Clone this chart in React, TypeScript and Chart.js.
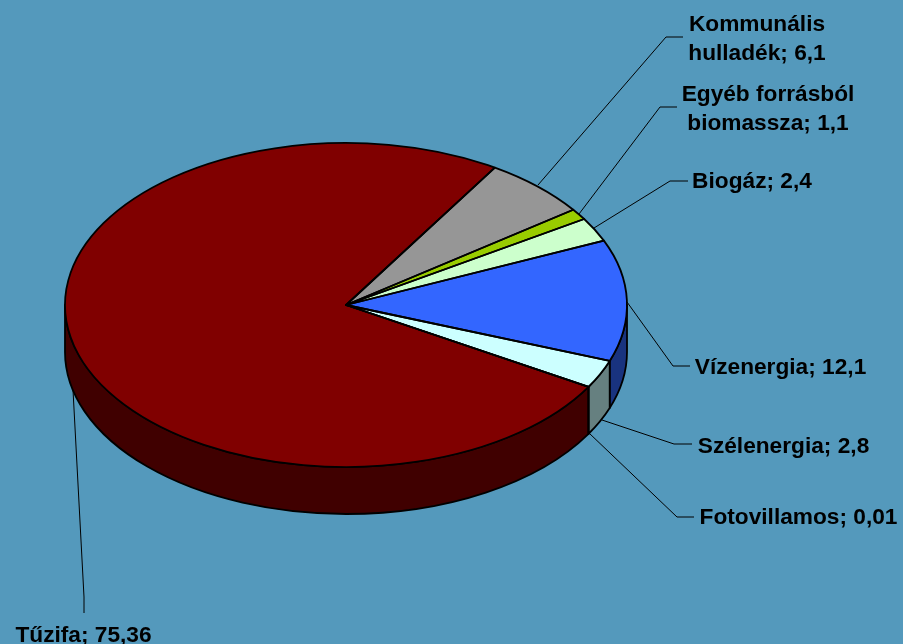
import React, { useEffect, useRef } from "react";
import { Chart, registerables } from "chart.js";

Chart.register(...registerables);

const categories = ["Tűzifa", "Kommunális hulladék", "Egyéb forrásból biomassza", "Biogáz", "Vízenergia", "Szélenergia", "Fotovillamos"];
const values = [75.36, 6.1, 1.1, 2.4, 12.1, 2.8, 0.01];
const labelFirstLines = ["", "Kommunális", "Egyéb forrásból", "", "", "", ""];
const labelNames = ["Tűzifa", "hulladék", "biomassza", "Biogáz", "Vízenergia", "Szélenergia", "Fotovillamos"];
const topColors = ["#800000", "#969696", "#99CC00", "#CCFFCC", "#3366FF", "#CCFFFF", "#FFFF99"];
const sideColors = ["#400000", "#4B4B4B", "#4D6600", "#668066", "#19337F", "#668080", "#80804D"];

const BG = "#5499BC";
const SQUASH = 162 / 281;
const DEPTH = 47;
// label layout: [centre x, baseline y] and leader polyline per slice
const labelPos = [[83.5, 642], [757, 60], [768, 130], [752, 188], [780.5, 374], [783.5, 453], [798.5, 524]];
const firstLineY = [0, 31, 101, 0, 0, 0, 0];
const leaders = [
  [[73, 390], [84, 597], [84, 613]],
  [[538, 185], [666, 37], [683, 37]],
  [[579, 214], [660, 107], [677, 107]],
  [[594, 228], [670, 181], [688, 181]],
  [[627, 302], [673, 366], [690, 366]],
  [[602, 420], [674, 444], [692, 444]],
  [[589, 433], [677, 517], [694, 517]],
];

const pie3d = {
  id: "pie3d",
  beforeDatasetsDraw(chart: any) {
    const { ctx } = chart;
    const arcs = chart.getDatasetMeta(0).data;
    ctx.save();
    ctx.lineWidth = 1.8;
    ctx.strokeStyle = "#000";
    ctx.lineJoin = "round";
    const TAU = Math.PI * 2;
    arcs.forEach((arc: any, i: number) => {
      const s0 = arc.startAngle;
      const span = arc.endAngle - arc.startAngle;
      [-TAU, 0, TAU].forEach((shift) => {
        const s = s0 + shift;
        const a0 = Math.max(s, 0);
        const a1 = Math.min(s + span, Math.PI);
        if (a1 <= a0) return;
        const rx = arc.outerRadius;
        const ry = rx * SQUASH;
        ctx.beginPath();
        ctx.ellipse(arc.x, arc.y, rx, ry, 0, a0, a1);
        ctx.ellipse(arc.x, arc.y + DEPTH, rx, ry, 0, a1, a0, true);
        ctx.closePath();
        ctx.fillStyle = sideColors[i];
        ctx.fill();
        ctx.stroke();
      });
    });
    ctx.restore();
    const first = arcs[0];
    ctx.save();
    ctx.translate(first.x, first.y);
    ctx.scale(1, SQUASH);
    ctx.translate(-first.x, -first.y);
  },
  afterDatasetsDraw(chart: any) {
    const { ctx } = chart;
    ctx.restore();
    ctx.save();
    ctx.lineWidth = 1.8;
    ctx.strokeStyle = "#000";
    ctx.lineJoin = "round";
    chart.getDatasetMeta(0).data.forEach((arc: any) => {
      const rx = arc.outerRadius;
      ctx.beginPath();
      ctx.moveTo(arc.x, arc.y);
      ctx.ellipse(arc.x, arc.y, rx, rx * SQUASH, 0, arc.startAngle, arc.endAngle);
      ctx.closePath();
      ctx.stroke();
    });
    ctx.restore();
  },
  afterDraw(chart: any) {
    const { ctx } = chart;
    ctx.save();
    ctx.strokeStyle = "#000";
    ctx.lineWidth = 1;
    leaders.forEach((pts) => {
      ctx.beginPath();
      pts.forEach(([x, y], i) => (i ? ctx.lineTo(x, y) : ctx.moveTo(x, y)));
      ctx.stroke();
    });
    ctx.fillStyle = "#000";
    ctx.font = "bold 22.7px 'Liberation Sans', Arial, sans-serif";
    ctx.textAlign = "center";
    ctx.textBaseline = "alphabetic";
    values.forEach((v, i) => {
      const [x, y] = labelPos[i];
      if (labelFirstLines[i]) ctx.fillText(labelFirstLines[i], x, firstLineY[i]);
      ctx.fillText(`${labelNames[i]}; ${String(v).replace(".", ",")}`, x, y);
    });
    ctx.restore();
  },
};

export default function App() {
  const ref = useRef<HTMLCanvasElement>(null);
  useEffect(() => {
    document.body.style.margin = "0";
    document.body.style.background = BG;
    const chart = new Chart(ref.current!, {
      type: "pie",
      data: {
        labels: categories,
        datasets: [{ data: values, backgroundColor: topColors, borderWidth: 0, radius: 281 } as any],
      },
      options: {
        responsive: false,
        animation: false,
        rotation: 120.34,
        layout: { padding: { left: 0, top: 0, right: 211, bottom: 34 } },
        plugins: { legend: { display: false }, tooltip: { enabled: false }, title: { display: false } },
      },
      plugins: [pie3d],
    });
    return () => chart.destroy();
  }, []);
  return (
    <div style={{ width: 903, height: 644, background: BG, overflow: "hidden" }}>
      <canvas ref={ref} width={903} height={644} style={{ display: "block" }} />
    </div>
  );
}
